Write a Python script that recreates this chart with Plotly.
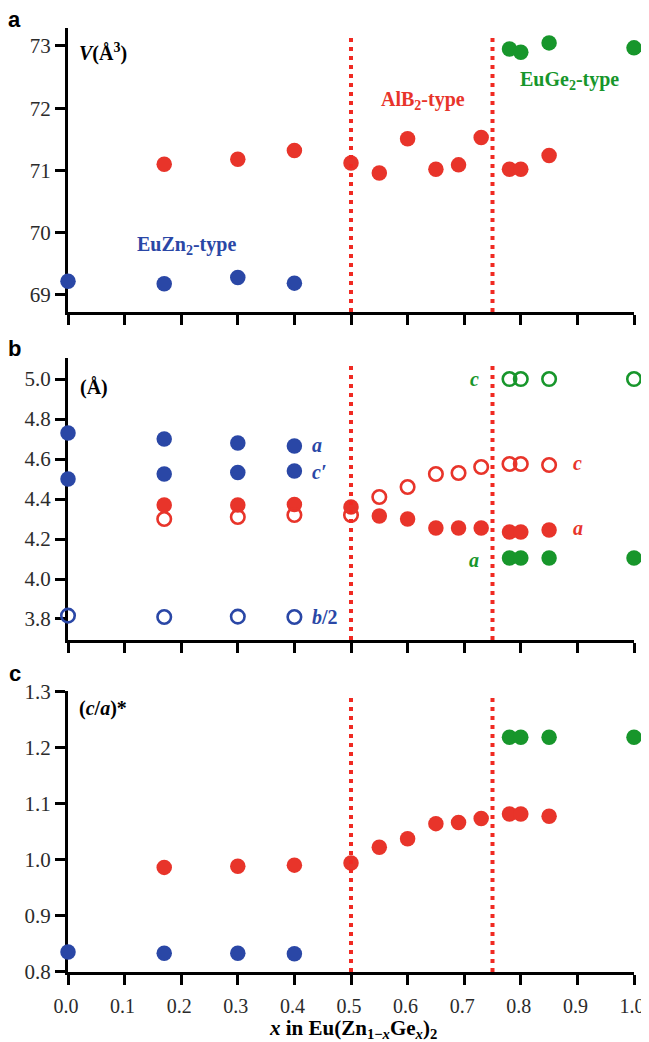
import plotly.graph_objects as go

# ---------------- data ----------------
x_euzn = [0.0, 0.17, 0.30, 0.40]
x_alb = [0.17, 0.30, 0.40, 0.50, 0.55, 0.60, 0.65, 0.69, 0.73, 0.78, 0.80, 0.85]
x_euge = [0.78, 0.80, 0.85, 1.00]

# panel a: cell volume V (A^3)
V_euzn = [69.22, 69.18, 69.28, 69.19]
V_alb = [71.10, 71.18, 71.32, 71.12, 70.96, 71.51, 71.02, 71.09, 71.53, 71.02, 71.02, 71.24]
V_euge = [72.95, 72.90, 73.05, 72.97]

# panel b: lattice parameters (A)
a_euzn = [4.73, 4.70, 4.68, 4.665]
cprime_euzn = [4.50, 4.525, 4.533, 4.54]
bhalf_euzn = [3.817, 3.81, 3.812, 3.81]
a_alb = [4.37, 4.37, 4.373, 4.36, 4.315, 4.30, 4.255, 4.255, 4.255, 4.235, 4.235, 4.245]
c_alb = [4.30, 4.31, 4.32, 4.32, 4.41, 4.46, 4.525, 4.53, 4.56, 4.575, 4.575, 4.57]
c_euge = [5.00, 5.00, 5.00, 5.00]
a_euge = [4.105, 4.105, 4.105, 4.105]

# panel c: (c/a)*
ca_euzn = [0.835, 0.833, 0.833, 0.832]
ca_alb = [0.986, 0.988, 0.990, 0.994, 1.022, 1.037, 1.064, 1.066, 1.073, 1.081, 1.081, 1.077]
ca_euge = [1.218, 1.218, 1.218, 1.218]

boundaries = [0.5, 0.75]
x_ticks = [0.0, 0.1, 0.2, 0.3, 0.4, 0.5, 0.6, 0.7, 0.8, 0.9, 1.0]

# ---------------- style ----------------
BLUE = "#2a47a6"
RED = "#e8342a"
GREEN = "#17962b"
DOT = "#f02a22"
SERIF = "Liberation Serif"
SANS = "Liberation Sans"

fig = go.Figure()


def filled(x, y, color, ax):
    fig.add_trace(go.Scatter(x=x, y=y, mode="markers", xaxis=ax[0], yaxis=ax[1],
                             cliponaxis=False, showlegend=False,
                             marker=dict(size=15.5, color=color, line=dict(width=0))))


def opened(x, y, color, ax):
    fig.add_trace(go.Scatter(x=x, y=y, mode="markers", xaxis=ax[0], yaxis=ax[1],
                             cliponaxis=False, showlegend=False,
                             marker=dict(size=13.5, symbol="circle-open", color=color,
                                         line=dict(width=2.6, color=color))))


A = ("x", "y")
B = ("x2", "y2")
C = ("x3", "y3")

# panel a
filled(x_euzn, V_euzn, BLUE, A)
filled(x_alb, V_alb, RED, A)
filled(x_euge, V_euge, GREEN, A)
# panel b
filled(x_euzn, a_euzn, BLUE, B)
filled(x_euzn, cprime_euzn, BLUE, B)
opened(x_euzn, bhalf_euzn, BLUE, B)
filled(x_alb, a_alb, RED, B)
opened(x_alb, c_alb, RED, B)
opened(x_euge, c_euge, GREEN, B)
filled(x_euge, a_euge, GREEN, B)
# panel c
filled(x_euzn, ca_euzn, BLUE, C)
filled(x_alb, ca_alb, RED, C)
filled(x_euge, ca_euge, GREEN, C)

ranges = {"y": [68.727, 73.289], "y2": [3.695, 5.105], "y3": [0.7995, 1.3005]}
tops = {"y": 73.18, "y2": 5.08, "y3": 1.29}
xrefs = {"y": "x", "y2": "x2", "y3": "x3"}
for yref in ["y", "y2", "y3"]:
    for b in boundaries:
        fig.add_shape(type="line", xref=xrefs[yref], yref=yref, x0=b, x1=b,
                      y0=ranges[yref][0], y1=tops[yref],
                      line=dict(color=DOT, width=4, dash="4px,5px"), layer="above")

xcommon = dict(range=[0, 1], tickvals=x_ticks, tickformat=".1f", showline=True,
               linecolor="black", linewidth=3, ticks="outside", ticklen=10,
               tickwidth=2.5, tickcolor="black", showgrid=False, zeroline=False,
               layer="below traces", automargin=False, ticklabelstandoff=4,
               ticklabelshift=-2, ticklabeloverflow="allow",
               tickfont=dict(family=SERIF, size=20, color="#2b2b2b"))
ycommon = dict(showline=True, linecolor="black", linewidth=3, ticks="outside",
               ticklen=10, tickwidth=2.5, tickcolor="black", showgrid=False,
               zeroline=False, layer="below traces", automargin=False,
               tickfont=dict(family=SERIF, size=21, color="#2b2b2b"))

# page body has an 8px default margin: the plot area is placed to compensate
fig.update_layout(
    width=641, height=1034,
    margin=dict(l=60, r=15, t=20, b=70, autoexpand=False),
    paper_bgcolor="white", plot_bgcolor="white",
    showlegend=False,
    xaxis=dict(xcommon, anchor="y", showticklabels=False),
    xaxis2=dict(xcommon, anchor="y2", showticklabels=False),
    xaxis3=dict(xcommon, anchor="y3", showticklabels=True),
    yaxis=dict(ycommon, domain=[0.6992, 1.0], range=ranges["y"],
               tickvals=[69, 70, 71, 72, 73], tickformat="d", anchor="x"),
    yaxis2=dict(ycommon, domain=[0.3517, 0.6504], range=ranges["y2"],
                tickvals=[3.8, 4.0, 4.2, 4.4, 4.6, 4.8, 5.0], tickformat=".1f", anchor="x2"),
    yaxis3=dict(ycommon, domain=[0.0, 0.2977], range=ranges["y3"],
                tickvals=[0.8, 0.9, 1.0, 1.1, 1.2, 1.3], tickformat=".1f", anchor="x3"),
)


def note(text, x, y, ref, color="black", size=20, xanchor="left", family=SERIF):
    fig.add_annotation(text=text, x=x, y=y, xref=ref[0], yref=ref[1],
                       xanchor=xanchor, yanchor="middle", showarrow=False,
                       font=dict(family=family, size=size, color=color))


# panel letters
note("<b>a</b>", -0.094, 1.0085, ("paper", "paper"), size=22, xanchor="center", family=SANS)
note("<b>b</b>", -0.094, 0.660, ("paper", "paper"), size=22, xanchor="center", family=SANS)
note("<b>c</b>", -0.094, 0.3167, ("paper", "paper"), size=22, xanchor="center", family=SANS)

# panel a labels
note("<b><i>V</i>(Å<sup>3</sup>)</b>", 0.016, 72.9, A)
note("<b>EuZn<sub>2</sub>-type</b>", 0.118, 69.80, A, color=BLUE)
note("<b>AlB<sub>2</sub>-type</b>", 0.549, 72.13, A, color=RED)
note("<b>EuGe<sub>2</sub>-type</b>", 0.795, 72.45, A, color=GREEN)

# panel b labels
note("<b>(Å)</b>", 0.018, 4.96, B)
note("<b><i>a</i></b>", 0.428, 4.67, B, color=BLUE)
note("<b><i>c′</i></b>", 0.428, 4.535, B, color=BLUE)
note("<b><i>b</i>/2</b>", 0.428, 3.81, B, color=BLUE)
note("<b><i>c</i></b>", 0.730, 5.00, B, color=GREEN, xanchor="right")
note("<b><i>a</i></b>", 0.730, 4.095, B, color=GREEN, xanchor="right")
note("<b><i>c</i></b>", 0.888, 4.58, B, color=RED)
note("<b><i>a</i></b>", 0.888, 4.255, B, color=RED)

# panel c label
note("<b>(<i>c</i>/<i>a</i>)*</b>", 0.016, 1.27, C)

# x-axis title
note("<b><i>x</i> in Eu(Zn<sub>1−<i>x</i></sub>Ge<sub><i>x</i></sub>)<sub>2</sub></b>",
     0.352, -0.0605, ("paper", "paper"), size=21, xanchor="left")

fig.write_html("out.html")
